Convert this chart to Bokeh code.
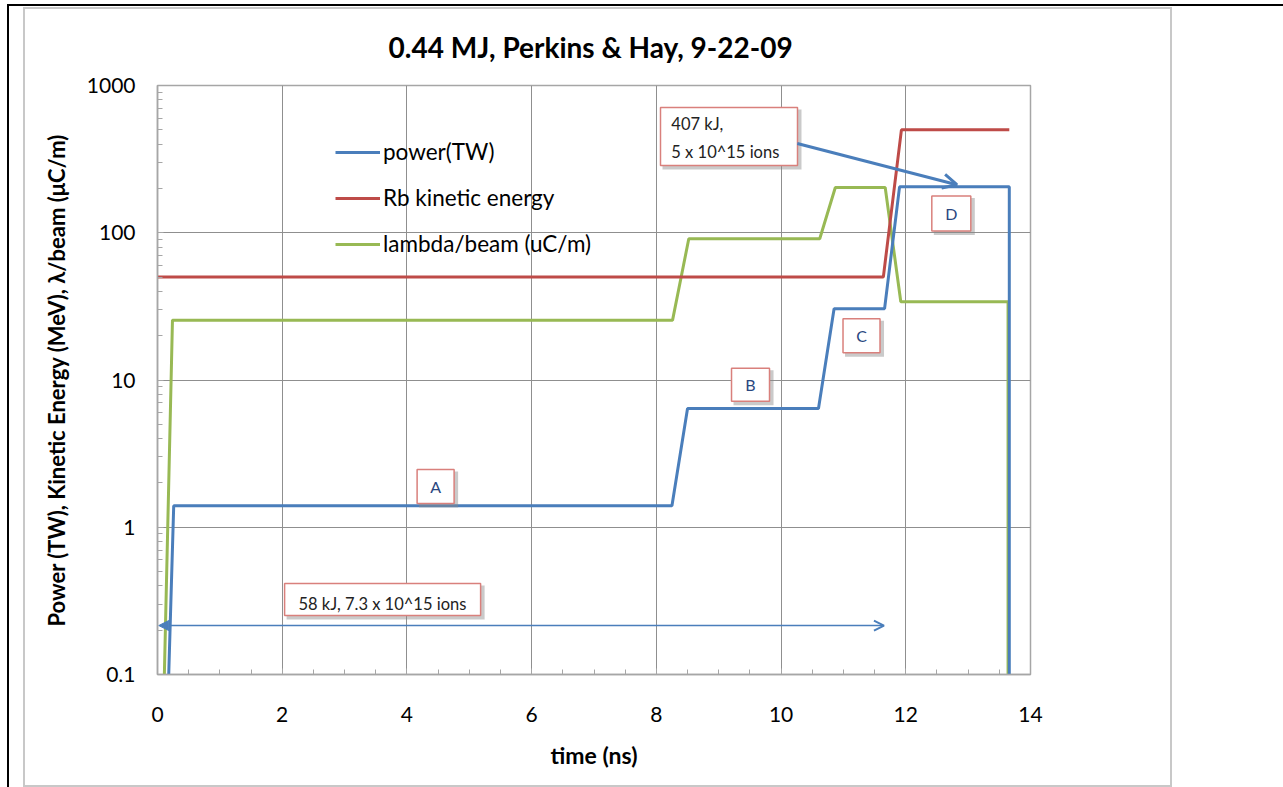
from bokeh.plotting import figure
from bokeh.models import (ColumnDataSource, FixedTicker, Legend, LegendItem, Arrow,
                          NormalHead, OpenHead, Label, Range1d, InlineStyleSheet)
from bokeh.embed import file_html
from bokeh.resources import INLINE

# ---------------- data ----------------
power_t = [0.18, 0.26, 8.25, 8.50, 10.60, 10.85, 11.66, 11.90, 13.66, 13.66]
power_v = [0.1, 1.4, 1.4, 6.4, 6.4, 30.5, 30.5, 205, 205, 0.1]

rb_t = [0.0, 11.64, 11.93, 13.66]
rb_v = [50, 50, 500, 500]

lambda_t = [0.11, 0.24, 8.26, 8.52, 10.62, 10.87, 11.67, 11.92, 13.64, 13.64]
lambda_v = [0.1, 25.5, 25.5, 91, 91, 203, 203, 34, 34, 0.1]

series_names = ["power(TW)", "Rb kinetic energy", "lambda/beam (uC/m)"]

x_ticks = [0, 2, 4, 6, 8, 10, 12, 14]
x_minor = [i * 0.5 for i in range(29)]
y_ticks = [0.1, 1, 10, 100, 1000]
y_tick_labels = ["0.1", "1", "10", "100", "1000"]
y_minor = [m * d for d in [0.1, 1, 10, 100] for m in range(2, 10)]

box_labels = ["A", "B", "C", "D"]
box_x = [4.46, 9.51, 11.29, 12.73]
box_y = [1.89, 9.3, 20.0, 135]

# ---------------- style ----------------
FONT = "Lato"
BLUE = "#4a7ebb"
RED = "#be4b48"
GREEN = "#98b954"
GRID = "#8f8f8f"
FRAME = "#a6a6a6"
BOX_EDGE = "#d9807c"

W, H = 1283, 787
L, R, T, B = 157, 253, 85, 113
FW, FH = W - L - R, H - T - B
px_x = FW / 14.0
px_dec = FH / 4.0

page_css = InlineStyleSheet(css="""
:host { position: relative; }
:host::before { content: ""; position: absolute; left: 7px; top: 4px; width: 1276px; height: 783px;
  border-top: 2px solid black; border-left: 2px solid black; box-sizing: border-box;
  pointer-events: none; z-index: 5; }
:host::after { content: ""; position: absolute; left: 23px; top: 7px; width: 1149px; height: 780px;
  border: 2px solid #c8c8c8; box-sizing: border-box; pointer-events: none; z-index: 5; }
""")

p = figure(width=W, height=H, x_range=Range1d(0, 14), y_range=Range1d(0.1, 1000),
           y_axis_type="log", output_backend="svg", toolbar_location=None,
           min_border_left=L, min_border_right=R, min_border_top=T, min_border_bottom=B,
           stylesheets=[page_css])
p.background_fill_color = "white"
p.border_fill_color = "white"
p.outline_line_color = FRAME
p.outline_line_width = 1.5

# title
p.title.text = "0.44 MJ, Perkins & Hay,  9-22-09"
p.title.align = "center"
p.title.text_font = FONT
p.title.text_font_style = "bold"
p.title.text_font_size = "28px"
p.title.text_color = "black"
p.title.standoff = 43

# axes
for ax in (p.xaxis[0], p.yaxis[0]):
    ax.axis_line_color = FRAME
    ax.axis_line_width = 1.5
    ax.major_tick_line_color = FRAME
    ax.minor_tick_line_color = FRAME
    ax.major_tick_in = 6
    ax.major_tick_out = 0
    ax.minor_tick_in = 5
    ax.minor_tick_out = 0
    ax.major_label_text_font = FONT
    ax.major_label_text_font_size = "21px"
    ax.major_label_text_color = "black"
    ax.axis_label_text_font = FONT
    ax.axis_label_text_font_style = "bold"
    ax.axis_label_text_color = "black"

p.xaxis.axis_label_text_font_size = "23px"
p.yaxis.axis_label_text_font_size = "22px"
p.xaxis.ticker = FixedTicker(ticks=x_ticks, minor_ticks=x_minor)
p.yaxis.ticker = FixedTicker(ticks=y_ticks, minor_ticks=y_minor)
p.yaxis.major_label_overrides = dict(zip(y_ticks, y_tick_labels))
p.xaxis.major_label_standoff = 32
p.yaxis.major_label_standoff = 22
p.xaxis.axis_label = "time (ns)"
p.yaxis.axis_label = "Power (TW), Kinetic Energy (MeV), \u03bb/beam (\u03bcC/m)"
p.xaxis.axis_label_standoff = 16
p.yaxis.axis_label_standoff = 14

p.xgrid.grid_line_color = GRID
p.ygrid.grid_line_color = GRID
p.xgrid.grid_line_width = 1
p.ygrid.grid_line_width = 1

# series
src_p = ColumnDataSource(dict(t=power_t, v=power_v))
src_r = ColumnDataSource(dict(t=rb_t, v=rb_v))
src_l = ColumnDataSource(dict(t=lambda_t, v=lambda_v))
r_l = p.line("t", "v", source=src_l, line_color=GREEN, line_width=3)
r_r = p.line("t", "v", source=src_r, line_color=RED, line_width=3)
r_p = p.line("t", "v", source=src_p, line_color=BLUE, line_width=3)

legend = Legend(items=[LegendItem(label=series_names[0], renderers=[r_p]),
                       LegendItem(label=series_names[1], renderers=[r_r]),
                       LegendItem(label=series_names[2], renderers=[r_l])],
                location=(178, 417))
legend.border_line_color = None
legend.background_fill_alpha = 0
legend.padding = 0
legend.margin = 0
legend.glyph_width = 45
legend.glyph_height = 22
legend.label_height = 22
legend.spacing = 19
legend.label_standoff = 3
legend.label_text_font = FONT
legend.label_text_font_size = "22.5px"
legend.label_text_color = "black"
p.add_layout(legend, "center")

# boxed annotations (rect with screen size + shadow)
def shadowed_box(xc, yc, w, h):
    sx = 3 / px_x
    sy = 10 ** (-3 / px_dec)
    p.rect([xc + sx], [yc * sy], width=w + 2, height=h + 2, width_units="screen",
           height_units="screen", fill_color="#8a8a8a", fill_alpha=0.45, line_color=None)
    p.rect([xc], [yc], width=w, height=h, width_units="screen", height_units="screen",
           fill_color="white", line_color=BOX_EDGE, line_width=1.5)

box_sizes = [(37, 34), (38, 33), (37, 34), (39, 35)]
for lab, xc, yc, (w, h) in zip(box_labels, box_x, box_y, box_sizes):
    shadowed_box(xc, yc, w, h)
    p.add_layout(Label(x=xc, y=yc, text=lab, text_align="center", text_baseline="middle",
                       text_font=FONT, text_font_size="16px", text_color="#2a4780"))

# 407 kJ box
shadowed_box(9.165, 451, 137, 58)
p.add_layout(Label(x=8.24, y=545, text="407 kJ,", text_align="left", text_baseline="middle",
                   text_font=FONT, text_font_size="16.5px", text_color="#222222"))
p.add_layout(Label(x=8.24, y=356, text="5 x 10^15 ions", text_align="left", text_baseline="middle",
                   text_font=FONT, text_font_size="16.5px", text_color="#222222"))

# 58 kJ box
shadowed_box(3.61, 0.323, 196, 32)
p.add_layout(Label(x=2.26, y=0.30, text="58 kJ, 7.3 x 10^15 ions", text_align="left",
                   text_baseline="middle", text_font=FONT, text_font_size="16.5px",
                   text_color="#222222"))

# arrows
p.add_layout(Arrow(x_start=10.26, y_start=404, x_end=12.82, y_end=212,
                   line_color=BLUE, line_width=3,
                   end=OpenHead(size=14, line_color=BLUE, line_width=3)))
p.add_layout(Arrow(x_start=0.02, y_start=0.215, x_end=11.65, y_end=0.215,
                   line_color=BLUE, line_width=1.5,
                   start=NormalHead(size=10, fill_color=BLUE, line_color=BLUE),
                   end=OpenHead(size=10, line_color=BLUE, line_width=2)))

open("out.html", "w").write(file_html(p, INLINE))
